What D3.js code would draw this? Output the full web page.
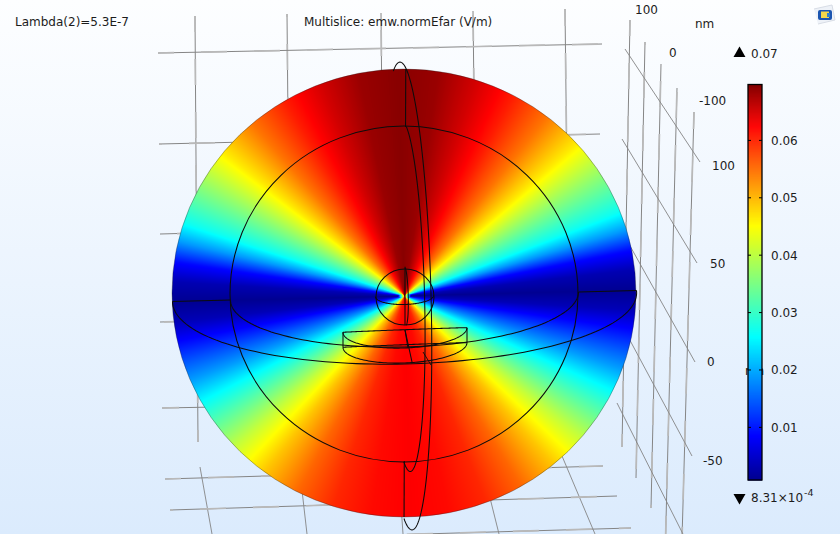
<!DOCTYPE html>
<html><head><meta charset="utf-8">
<script src="https://cdn.jsdelivr.net/npm/d3@7/dist/d3.min.js"></script>
<style>html,body{margin:0;padding:0;overflow:hidden;background:#fff}svg{display:block}text{font-family:"DejaVu Sans",sans-serif;font-size:12px;fill:#1c1c1c}</style>
</head><body><svg id="c" width="840" height="534"></svg>
<script>
// ---- readings from the picture ----
const colorbarTicks = [0.01,0.02,0.03,0.04,0.05,0.06];
const colorMin = 0.000831, colorMax = 0.07;
const jetPositions = [0,0.11,0.36,0.64,0.89,1];
const jetColors = ["#00008f","#0000ff","#00ffff","#ffff00","#ff0000","#800000"];
// field value against angle away from the vertical axis
const upperAngles = [0,10,20,26,30,40,50,60,70,75,80,85,90];
const upperValues = [0.0695,0.0685,0.065,0.0625,0.0605,0.0545,0.0465,0.0365,0.0268,0.0188,0.009,0.0032,0.001];
const lowerAngles = [0,10,20,30,40,45,50,60,65,70,75,80,85,90];
const lowerValues = [0.0625,0.0618,0.0598,0.0555,0.049,0.045,0.0405,0.03,0.0247,0.019,0.014,0.0088,0.0035,0.001];
// axis ticks (nm)
const heightTicks = [100,50,0,-50,-100];
const depthTicks = [100,50,0,-50,-100];
const widthTicks = [-100,-50,0,50,100];
const floorTicks = [100,50,0];
const heightLabels = [100,50,0,-50];
const depthLabels = [100,0,-100];
const sphereRadii = [250,187.5,31.25];
const meridianSweep = [[-106,109],[-75,109],[-85,85]];
const discHeights = [0,1];

const W=840,H=534;
const svg=d3.select("#c");
const defs=svg.append("defs");
const bg=defs.append("linearGradient").attr("id","bg").attr("x1",0).attr("y1",0).attr("x2",0).attr("y2",1);
bg.append("stop").attr("offset",0).attr("stop-color","#fdfeff");
bg.append("stop").attr("offset",1).attr("stop-color","#dbebfd");
svg.append("rect").attr("width",W).attr("height",H).attr("fill","url(#bg)");

// ---- grid: each family maps a tick to its two line ends through scales ----
const lin=(d,r)=>d3.scaleLinear().domain(d).range(r);
const families=[
 {t:widthTicks,x1:lin(widthTicks,[195,287,381,473,565]),y1:lin(widthTicks,[16,14,13,11,9]),x2:lin(widthTicks,[198,291,385,478,570]),y2:lin(widthTicks,[442,441,440,438,436])},
 {t:heightTicks,x1:lin(heightTicks,[158,159,160,160,162]),y1:lin(heightTicks,[53,144,234,322,408]),x2:lin(heightTicks,[602,600,598,597,595]),y2:lin(heightTicks,[44,134,222,312,400])},
 {t:widthTicks,x1:lin(widthTicks,[200,299,398,480,562]),y1:lin(widthTicks,[467,464,461,458,456]),x2:lin(widthTicks,[212,307,403,499,595]),y2:lin(widthTicks,[534,534,534,534,534])},
 {t:floorTicks,x1:lin(floorTicks,[165,170,178]),y1:lin(floorTicks,[479,510,541]),x2:lin(floorTicks,[603,617,631]),y2:lin(floorTicks,[466,496,528])},
 {t:depthTicks,x1:lin(depthTicks,[630,645,661,677,694]),y1:lin(depthTicks,[20,42,64,88,112]),x2:lin(depthTicks,[622,636,651,665.5,681]),y2:lin(depthTicks,[447,478,508,541,575])},
 {t:heightTicks,x1:lin(heightTicks,[625,622,620,618,617]),y1:lin(heightTicks,[49,139,228,318,403]),x2:lin(heightTicks,[700,697,695,692,690]),y2:lin(heightTicks,[162,263,362,456,548])},
];
const gridG=svg.append("g");
families.forEach((f,i)=>{
  const isDiag=i===2||i===5;
  const sel=gridG.selectAll(null).data(f.t).enter();
  const put=(s)=>s.append("line").attr("x1",d=>f.x1(d)).attr("y1",d=>f.y1(d)).attr("x2",d=>f.x2(d)).attr("y2",d=>f.y2(d));
  put(sel).attr("stroke","#858585").attr("stroke-width",isDiag?0.9:1);
  if(!isDiag) put(sel).attr("stroke","#b9b9b9").attr("stroke-width",1.7).attr("stroke-dasharray","26,27").attr("stroke-dashoffset",(d,j)=>10+j*13);
});

// ---- field raster ----
const cx=404,cy=293,rx=232,ry=224;
const fx=404.5,fy=296,rot=1.5*Math.PI/180;
const upper=lin(upperAngles,upperValues), lower=lin(lowerAngles,lowerValues);
const colorPos=lin([colorMin,colorMax],[0,1]).clamp(true);
const jet=lin(jetPositions,jetColors).interpolate(d3.interpolateRgb);
const lut=d3.range(1024).map(i=>d3.rgb(jet(i/1023)));
const field=(x,y)=>{
  const dx=x-fx,dy=y-fy;
  const X=dx*Math.cos(rot)-dy*Math.sin(rot), Y=dx*Math.sin(rot)+dy*Math.cos(rot);
  const a=Math.atan2(Math.abs(X),Math.abs(Y))*180/Math.PI;
  const v=(Y<0?upper:lower)(a);
  const r=Math.hypot(X,Y);
  return r<7 ? Math.max(v,0.055*(1-r/7)) : v;
};
const cv=document.createElement("canvas");cv.width=W;cv.height=H;
const ctx=cv.getContext("2d");const img=ctx.createImageData(W,H);
for(let y=0;y<H;y++)for(let x=0;x<W;x++){
  if(((x-cx)/(rx+2))**2+((y-cy)/(ry+2))**2>1) continue;
  const c=lut[Math.round(colorPos(field(x+.5,y+.5))*1023)];
  const k=(y*W+x)*4;img.data[k]=c.r;img.data[k+1]=c.g;img.data[k+2]=c.b;img.data[k+3]=255;
}
ctx.putImageData(img,0,0);
defs.append("clipPath").attr("id","ball").append("ellipse").attr("cx",cx).attr("cy",cy).attr("rx",rx).attr("ry",ry);
svg.append("image").attr("width",W).attr("height",H).attr("clip-path","url(#ball)").attr("href",cv.toDataURL());
svg.append("ellipse").attr("cx",cx).attr("cy",cy).attr("rx",rx).attr("ry",ry).attr("fill","none").attr("stroke","#222").attr("stroke-width",.6).attr("stroke-opacity",.55);

// ---- wireframe ----
const k=lin([0,250],[0,232]);
const wire=svg.append("g").attr("fill","none").attr("stroke","#0c0c0c").attr("stroke-width",1.05);
const line=d3.line().x(d=>d[0]).y(d=>d[1]).curve(d3.curveLinear);
const deg=Math.PI/180;
const sweep=(a,b)=>d3.range(a,b+1,2).map(t=>t*deg);
const tilt=-0.0235;
const inner=k(sphereRadii[1]);
sphereRadii.forEach((r,i)=>{
  const R=k(r);
  if(i>0){ // silhouette of the inner balls
    const ccx=i===1?404:405, ccy=i===1?294:297;
    wire.append("ellipse").attr("cx",ccx).attr("cy",ccy).attr("rx",R).attr("ry",R*.965);
  }
  // equator: deep front arc
  const bulge=t=>(i===0&&Math.cos(t)>0)?4*Math.sin(2*t):0;
  const eq=t=>[404.5+R*Math.cos(t)+bulge(t),296+tilt*R*Math.cos(t)+.293*R*Math.sin(t)];
  wire.append("path").attr("d",line(sweep(0,180).map(eq)));
  // meridian: sheared ellipse in front
  const mx=405+.0043*R, A=.108*R, B=.0259*R, C=1.0086*R;
  const mer=t=>[mx+A*Math.cos(t)+B*Math.sin(t),296+C*Math.sin(t)];
  const [s0,s1]=meridianSweep[i];
  wire.append("path").attr("d",line(sweep(s0,s1).map(mer)));
  if(i===0){
    // back edges show only in the ring between the two largest balls
    const flatX=u=>404.5+u, flatY=u=>296+tilt*u;
    [[-R,-inner],[inner,R]].forEach(u=>wire.append("path").attr("d",line(u.map(v=>[flatX(v),flatY(v)]))));
    const upX=d3.scaleLinear().domain([-234,234]).range([405.8,404]);
    [[-227,-169],[165,221]].forEach(u=>wire.append("path").attr("d",line(u.map(v=>[upX(v),296+v]))));
  }
  if(i===2){
    wire.append("path").attr("d",line([[405,268],[405,325]]));
  }
});
// disc below the centre: top and bottom rims joined at both sides
const discX=lin([-1,1],[343,467]);
const discY=d3.scaleLinear().domain([0,1]).range([330,345]);
discHeights.forEach(h=>{
  const rim=(t,dep)=>[405+62*Math.cos(t),discY(h)-.0375*62*Math.cos(t)+dep*62*Math.sin(t)];
  wire.append("path").attr("d",line(sweep(0,180).map(t=>rim(t,.29))));
  wire.append("path").attr("d",line(sweep(0,180).map(t=>rim(t,-.005))));
});
[-1,1].forEach(s=>wire.append("line").attr("x1",discX(s)).attr("x2",discX(s)).attr("y1",discY(0)-s*.0375*62).attr("y2",discY(1)-s*.0375*62));
wire.append("path").attr("d",line([[405,330],[412,362]]));
wire.append("path").attr("d",line([[405,330],[408,348]]));
wire.append("path").attr("d",line([[423,352],[431,365]])).attr("stroke-width",.9);

// ---- text ----
const label=(x,y,s,fs)=>{const t=svg.append("text").attr("x",x).attr("y",y).text(s);if(fs)t.style("font-size",fs+"px");return t;};
label(15,26,"Lambda(2)=5.3E-7");
label(304,26,"Multislice: emw.normEfar (V/m)");
label(695,28,"nm");
const depthX=lin(depthLabels,[635,669,699]),depthY=lin(depthLabels,[14,57,105]);
depthLabels.forEach(d=>label(depthX(d),depthY(d),d));
const heightX=lin(heightLabels,[712,710,707,703]),heightY=lin(heightLabels,[170,268,366,465]);
heightLabels.forEach(d=>label(heightX(d),heightY(d),d));
label(745,375,"nm");

// ---- colour bar ----
const barX=748,barW=14;
const barY=lin([colorMin,colorMax],[480,83]);
const barTop=85;
const steps=d3.range(colorMin,colorMax,(colorMax-colorMin)/396);
svg.append("g").selectAll("rect").data(steps).enter().append("rect")
  .attr("x",barX).attr("width",barW).attr("y",d=>Math.max(barTop,barY(d)-1)).attr("height",1.6)
  .attr("fill",d=>jet(colorPos(d)));
svg.append("rect").attr("x",barX).attr("y",barTop-.5).attr("width",barW).attr("height",480-barTop+.5).attr("fill","none").attr("stroke","#000").attr("stroke-width",1.3);
const axis=d3.axisRight(barY).tickValues(colorbarTicks).tickFormat(d3.format(".2f")).tickSize(0).tickPadding(9);
const ag=svg.append("g").attr("transform",`translate(${barX+barW},0)`).call(axis);
ag.select(".domain").remove();
ag.selectAll("text").attr("fill",null);
colorbarTicks.forEach(v=>{
  svg.append("line").attr("x1",barX).attr("x2",barX+3).attr("y1",barY(v)).attr("y2",barY(v)).attr("stroke","#000");
  svg.append("line").attr("x1",barX+barW-3).attr("x2",barX+barW).attr("y1",barY(v)).attr("y2",barY(v)).attr("stroke","#000");
});
const tri=d3.symbol().type(d3.symbolTriangle).size(62);
svg.append("path").attr("d",tri()).attr("transform","translate(739.5,53.5)").attr("fill","#000");
svg.append("path").attr("d",tri()).attr("transform","translate(739.5,497.5) scale(1,-1)").attr("fill","#000");
label(751,58,"0.07");
label(751,502,"8.31×10");
label(804,496,"-4",9.5);

// ---- logo in the corner ----
const logo=svg.append("g");
logo.append("path").attr("d",d3.line()([[814,9],[832,5],[835,20],[818,24]])).attr("fill","#eef2f8").attr("stroke","#d8dde6");
logo.append("rect").attr("x",818).attr("y",10).attr("width",14).attr("height",10).attr("rx",2).attr("fill","#1b55b0");
logo.append("rect").attr("x",821).attr("y",11.5).attr("width",8).attr("height",6.5).attr("fill","#f5d84a");
logo.append("rect").attr("x",827).attr("y",13).attr("width",3).attr("height",4).attr("fill","#2f7fd0");
</script></body></html>
